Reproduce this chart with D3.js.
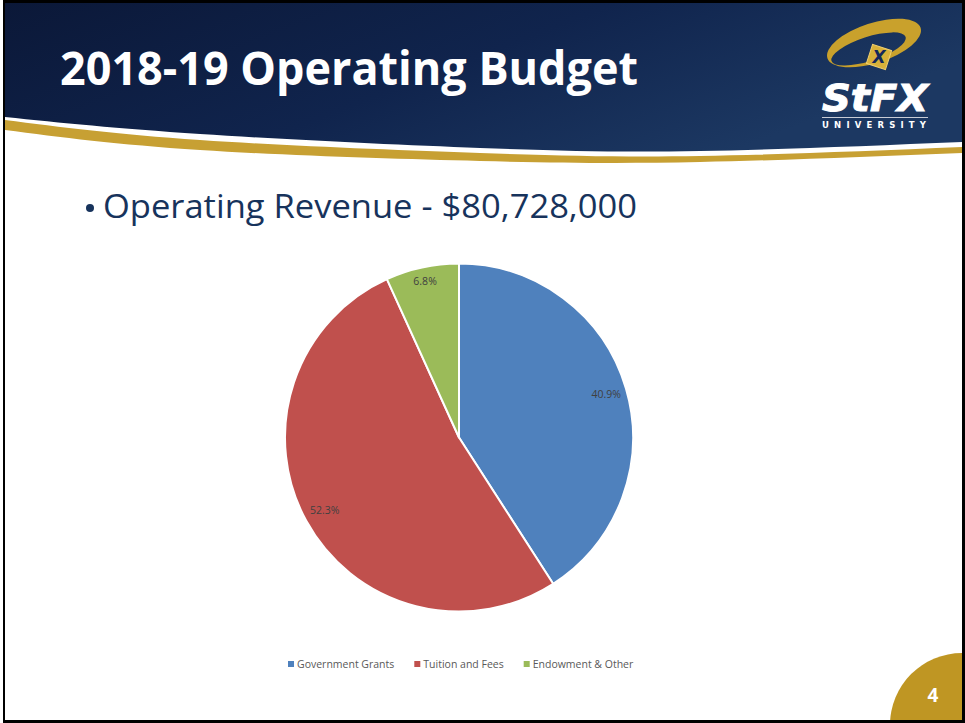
<!DOCTYPE html>
<html>
<head>
<meta charset="utf-8">
<script src="https://cdn.jsdelivr.net/npm/d3@7"></script>
<style>
  html, body { margin: 0; padding: 0; background: #ffffff; }
  svg { display: block; }
</style>
</head>
<body>
<svg id="chart" width="965" height="723"></svg>
<script>
// ---- data ----
const titleText = "2018-19 Operating Budget";
const subtitleText = "Operating Revenue - $80,728,000";
const categories = ["Government Grants", "Tuition and Fees", "Endowment & Other"];
const shares = [40.9, 52.3, 6.8];
const colors = ["#4f81bd", "#c0504d", "#9bbb59"];
const pageNumber = "4";

const svg = d3.select("#chart");
const W = 965, H = 723;

// ---- frame ----
svg.append("rect").attr("x", 0).attr("y", 0).attr("width", W).attr("height", H).attr("fill", "#ffffff");
svg.append("rect").attr("x", 3).attr("y", 0).attr("width", W - 3).attr("height", H).attr("fill", "#000000");
svg.append("rect").attr("x", 5).attr("y", 3).attr("width", 957).attr("height", 717).attr("fill", "#ffffff");

// ---- header ----
const defs = svg.append("defs");
const grad = defs.append("linearGradient").attr("id", "hdr").attr("x1", "0").attr("y1", "0").attr("x2", "1").attr("y2", "0.4");
grad.append("stop").attr("offset", "0%").attr("stop-color", "#0b1838");
grad.append("stop").attr("offset", "55%").attr("stop-color", "#10244d");
grad.append("stop").attr("offset", "100%").attr("stop-color", "#1c3862");

const curve = d3.line().curve(d3.curveNatural);
const navyBottom = [[5, 117], [200, 134], [480, 148], [700, 151], [962, 142]];
const goldTop = [[5, 120], [200, 140], [480, 153], [700, 156], [962, 147]];
const goldBot = [[5, 130], [200, 150], [480, 161], [700, 162], [962, 153]];

const clip = defs.append("clipPath").attr("id", "slide");
clip.append("rect").attr("x", 5).attr("y", 3).attr("width", 957).attr("height", 717);
const hdr = svg.append("g").attr("clip-path", "url(#slide)");

hdr.append("path")
  .attr("d", "M5,3 L962,3 " + curve(navyBottom.slice().reverse()).replace(/^M/, "L") + " L5,3 Z")
  .attr("fill", "url(#hdr)");
hdr.append("path")
  .attr("d", curve(goldTop) + " " + curve(goldBot.slice().reverse()).replace(/^M/, "L") + " Z")
  .attr("fill", "#c7a033");

// title
svg.append("text")
  .attr("x", 60).attr("y", 85)
  .attr("font-family", "'Open Sans', sans-serif")
  .attr("font-weight", 700)
  .attr("font-size", 46)
  .attr("fill", "#ffffff")
  .attr("textLength", 578)
  .attr("lengthAdjust", "spacingAndGlyphs")
  .text(titleText);

// ---- logo ----
const logo = svg.append("g");
logo.append("path")
  .attr("transform", "translate(874,43) rotate(-18)")
  .attr("d", (() => {
    const e = (cx, cy, rx, ry) => `M${cx - rx},${cy} a${rx},${ry} 0 1,0 ${2 * rx},0 a${rx},${ry} 0 1,0 ${-2 * rx},0 Z`;
    return e(0, 0, 49, 20) + " " + e(-7, 4, 39, 12);
  })())
  .attr("fill-rule", "evenodd")
  .attr("fill", "#c9a12c");
logo.append("rect")
  .attr("x", -10).attr("y", -10).attr("width", 20).attr("height", 20)
  .attr("transform", "translate(879,57) rotate(18)")
  .attr("fill", "#d8b13a").attr("stroke", "#f0d070").attr("stroke-width", 1);
logo.append("text")
  .attr("x", 879).attr("y", 63)
  .attr("text-anchor", "middle")
  .attr("font-family", "'DejaVu Sans', sans-serif")
  .attr("font-weight", 700).attr("font-style", "italic")
  .attr("font-size", 17).attr("fill", "#13275a")
  .text("X");
logo.append("text")
  .attr("x", 822).attr("y", 111)
  .attr("font-family", "'DejaVu Sans', sans-serif")
  .attr("font-weight", 700).attr("font-style", "italic")
  .attr("font-size", 37).attr("fill", "#ffffff")
  .attr("stroke", "#ffffff").attr("stroke-width", 1)
  .attr("textLength", 106).attr("lengthAdjust", "spacingAndGlyphs")
  .text("StFX");
logo.append("line")
  .attr("x1", 822).attr("x2", 928).attr("y1", 117.5).attr("y2", 117.5)
  .attr("stroke", "#c8ccd6").attr("stroke-width", 1);
logo.append("text")
  .attr("x", 822).attr("y", 128)
  .attr("font-family", "'DejaVu Sans', sans-serif")
  .attr("font-weight", 700)
  .attr("font-size", 8.5).attr("fill", "#ffffff")
  .attr("textLength", 104).attr("lengthAdjust", "spacing")
  .text("UNIVERSITY");

// ---- subtitle ----
svg.append("circle").attr("cx", 90).attr("cy", 208).attr("r", 4).attr("fill", "#17335c");
svg.append("text")
  .attr("x", 103).attr("y", 218)
  .attr("font-family", "'Open Sans', sans-serif")
  .attr("font-size", 33)
  .attr("fill", "#17335c")
  .attr("textLength", 534)
  .attr("lengthAdjust", "spacingAndGlyphs")
  .text(subtitleText);

// ---- pie ----
const cx = 459, cy = 437.5, R = 174;
const pieData = d3.pie().sort(null).startAngle(0).endAngle(2 * Math.PI)(shares);
const arc = d3.arc().innerRadius(0).outerRadius(R);
const gPie = svg.append("g").attr("transform", `translate(${cx},${cy})`);

gPie.selectAll("path.slice")
  .data(pieData)
  .join("path")
  .attr("class", "slice")
  .attr("d", arc)
  .attr("fill", (d, i) => colors[i])
  .attr("stroke", "#ffffff")
  .attr("stroke-width", 2)
  .attr("stroke-linejoin", "round");

// data labels, placed "inside end"
const fmt = d => d.toFixed(1) + "%";
const labels = gPie.selectAll("text.lbl")
  .data(pieData)
  .join("text")
  .attr("class", "lbl")
  .attr("text-anchor", "middle")
  .attr("dy", "0.35em")
  .attr("font-family", "'Open Sans', sans-serif")
  .attr("font-size", 10.5)
  .attr("fill", "#404040")
  .text(d => fmt(d.data));

labels.each(function (d) {
  const w = this.getComputedTextLength() + 2;
  const h = 16;
  const a = (d.startAngle + d.endAngle) / 2;
  const ux = Math.sin(a), uy = -Math.cos(a);
  const limit = R - 3;
  let t = R;
  while (t > 0) {
    const px = t * ux, py = t * uy;
    const corners = [[px - w / 2, py - h / 2], [px + w / 2, py - h / 2], [px - w / 2, py + h / 2], [px + w / 2, py + h / 2]];
    if (corners.every(c => Math.hypot(c[0], c[1]) <= limit)) break;
    t -= 0.5;
  }
  d3.select(this).attr("x", t * ux).attr("y", t * uy);
});

// ---- legend ----
const legend = svg.append("g");
const items = legend.selectAll("g.item").data(categories).join("g").attr("class", "item");
items.append("rect").attr("width", 6).attr("height", 6).attr("y", -3).attr("fill", (d, i) => colors[i]);
items.append("text")
  .attr("x", 9).attr("dy", "0.35em")
  .attr("font-family", "'Open Sans', sans-serif")
  .attr("font-size", 10.5)
  .attr("fill", "#595959")
  .text(d => d);
let widths = [];
items.each(function () { widths.push(this.getBBox().width); });
const gap = 20;
const total = d3.sum(widths) + gap * (widths.length - 1);
let x0 = 461 - total / 2;
items.attr("transform", (d, i) => {
  const x = x0 + d3.sum(widths.slice(0, i)) + gap * i;
  return `translate(${x},664)`;
});

// ---- page number ----
svg.append("g").attr("clip-path", "url(#slide)")
  .append("circle").attr("cx", 962).attr("cy", 725).attr("r", 72).attr("fill", "#bf9623");
svg.append("text")
  .attr("x", 933).attr("y", 702)
  .attr("text-anchor", "middle")
  .attr("font-family", "'Open Sans', sans-serif")
  .attr("font-weight", 700)
  .attr("font-size", 19)
  .attr("fill", "#ffffff")
  .text(pageNumber);
</script>
</body>
</html>
